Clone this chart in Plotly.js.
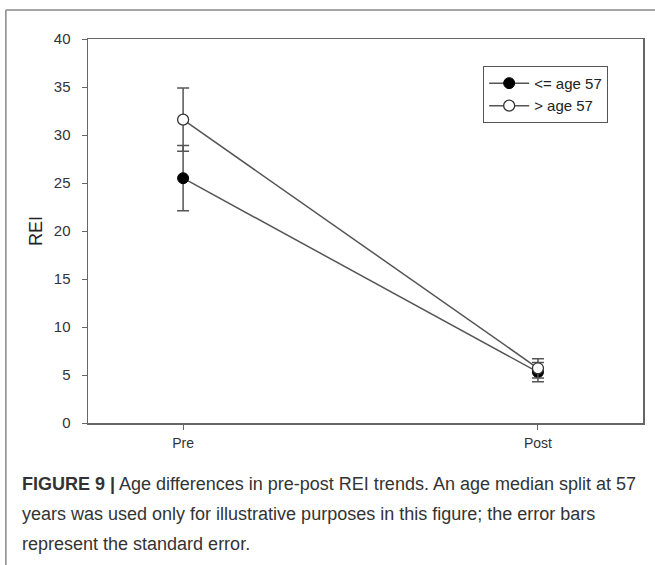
<!DOCTYPE html>
<html>
<head>
<meta charset="utf-8">
<script src="https://cdn.plot.ly/plotly-3.0.1.min.js"></script>
<style>html,body{margin:0;padding:0;background:#fff;}#chart{width:655px;height:565px;}</style>
</head>
<body>
<div id="chart"></div>
<script>
var categories = ["Pre", "Post"];
var youngNames = "<= age 57";
var oldNames = "> age 57";
var youngMean = [25.5, 5.3];
var youngSE = [3.4, 1.0];
var oldMean = [31.6, 5.7];
var oldSE = [3.3, 1.0];
var yTicks = [0, 5, 10, 15, 20, 25, 30, 35, 40];

var lineCol = "#555555";
var xIdx = categories.map(function(c, i){ return i; });

var traces = [
  {
    x: xIdx, y: youngMean, name: youngNames, type: "scatter", mode: "lines+markers",
    line: {color: lineCol, width: 1.5},
    marker: {symbol: "circle", size: 11, color: "#000000", line: {color: "#000000", width: 1}},
    error_y: {type: "data", array: youngSE, visible: true, color: lineCol, thickness: 1.5, width: 6}
  },
  {
    x: xIdx, y: oldMean, name: oldNames, type: "scatter", mode: "lines+markers",
    line: {color: lineCol, width: 1.5},
    marker: {symbol: "circle", size: 11, color: "#ffffff", line: {color: "#333333", width: 1.3}},
    error_y: {type: "data", array: oldSE, visible: true, color: lineCol, thickness: 1.5, width: 6}
  }
];

var frameCol = "#888888";
var layout = {
  width: 655, height: 565,
  margin: {l: 88, r: 12, t: 39, b: 142},
  paper_bgcolor: "#ffffff", plot_bgcolor: "#ffffff",
  font: {family: "Liberation Sans, Arial, sans-serif", color: "#333333", size: 14},
  showlegend: true,
  legend: {
    x: 0.712, y: 0.93, xanchor: "left", yanchor: "top",
    bordercolor: "#555555", borderwidth: 1, bgcolor: "#ffffff",
    font: {size: 15, color: "#222222"}, itemwidth: 40, tracegroupgap: 0
  },
  xaxis: {
    range: [-0.268, 1.296], tickvals: xIdx, ticktext: categories,
    showgrid: false, zeroline: false, showline: true, linecolor: "#666666", linewidth: 1.5,
    mirror: true, ticks: "outside", ticklen: 5, tickcolor: "#666666",
    tickfont: {size: 14, color: "#333333"}, ticklabelstandoff: 2, fixedrange: true
  },
  yaxis: {
    range: [0, 40], tickvals: yTicks,
    showgrid: false, zeroline: false, showline: true, linecolor: "#666666", linewidth: 1.5,
    mirror: true, ticks: "outside", ticklen: 5, tickcolor: "#666666",
    tickfont: {size: 15, color: "#333333"}, ticklabelstandoff: 8,
    title: {text: "REI", font: {size: 18, color: "#222222"}, standoff: 6}
  },
  shapes: [
    {type: "line", xref: "paper", yref: "paper", x0: -0.148, x1: 1.05, y0: 1.0755, y1: 1.0755, line: {color: frameCol, width: 1.5}},
    {type: "line", xref: "paper", yref: "paper", x0: -0.148, x1: -0.148, y0: 1.0755, y1: -0.4, line: {color: frameCol, width: 1.5}}
  ],
  annotations: [
    {xref: "paper", yref: "paper", x: -0.123, y: -0.16, xanchor: "left", yanchor: "middle", showarrow: false, align: "left",
     text: "<b>FIGURE 9 |</b> Age differences in pre-post REI trends. An age median split at 57", font: {size: 18, color: "#333333"}},
    {xref: "paper", yref: "paper", x: -0.123, y: -0.238, xanchor: "left", yanchor: "middle", showarrow: false, align: "left",
     text: "years was used only for illustrative purposes in this figure; the error bars", font: {size: 18, color: "#333333"}},
    {xref: "paper", yref: "paper", x: -0.123, y: -0.316, xanchor: "left", yanchor: "middle", showarrow: false, align: "left",
     text: "represent the standard error.", font: {size: 18, color: "#333333"}}
  ]
};

Plotly.newPlot("chart", traces, layout, {displayModeBar: false, staticPlot: true});
</script>
</body>
</html>
